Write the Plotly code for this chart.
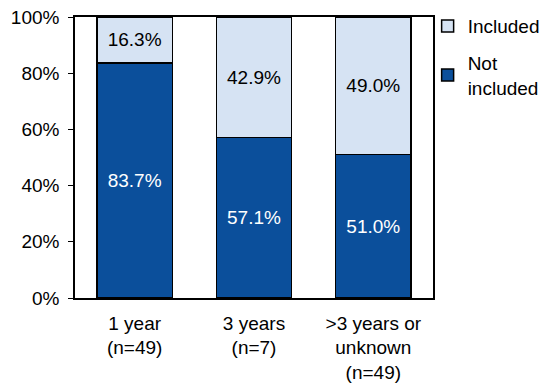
import plotly.graph_objects as go

categories = ["1 year<br>(n=49)", "3 years<br>(n=7)", ">3 years or<br>unknown<br>(n=49)"]
not_included = [83.7, 57.1, 51.0]
included = [16.3, 42.9, 49.0]
tick_vals = [0, 20, 40, 60, 80, 100]
tick_text = ["0%", "20%", "40%", "60%", "80%", "100%"]

FONT = "Arial, Liberation Sans, sans-serif"

fig = go.Figure()
fig.add_trace(go.Bar(
    x=categories, y=not_included, name="Not<br>included", legendrank=2, legendgroup="b",
    marker=dict(color="#0B4F9B", line=dict(color="black", width=1.5)),
    text=[f"{v:.1f}%" for v in not_included], textposition="inside",
    insidetextanchor="middle",
    textfont=dict(color="white", size=19, family=FONT),
))
fig.add_trace(go.Bar(
    x=categories, y=included, name="Included", legendrank=1, legendgroup="a",
    marker=dict(color="#D6E3F3", line=dict(color="black", width=1.5)),
    text=[f"{v:.1f}%" for v in included], textposition="inside",
    insidetextanchor="middle",
    textfont=dict(color="black", size=19, family=FONT),
))
fig.update_layout(
    barmode="stack", bargap=0.37,
    width=550, height=386,
    margin=dict(l=75, r=117, t=17, b=88, autoexpand=False),
    plot_bgcolor="white", paper_bgcolor="white",
    font=dict(family=FONT, size=19, color="black"),
    showlegend=True,
    legend=dict(x=0.985, y=1.035, xanchor="left", yanchor="top",
                traceorder="grouped", tracegroupgap=9, font=dict(size=19),
                bgcolor="rgba(0,0,0,0)", itemwidth=30),
    uniformtext=dict(mode="show", minsize=10),
)
fig.update_yaxes(range=[0, 100], tickvals=tick_vals, ticktext=tick_text,
                 showgrid=False, showline=True, linecolor="black", linewidth=1.5,
                 mirror=True, ticks="outside", ticklen=5, tickcolor="black",
                 ticklabelstandoff=5, zeroline=False, automargin=False)
fig.update_xaxes(showline=True, linecolor="black", linewidth=1.5, mirror=True,
                 ticks="", showgrid=False, automargin=False, ticklabelstandoff=7)
fig.write_html("out.html", config={"displayModeBar": False},
               post_script="document.body.style.margin='0';")
